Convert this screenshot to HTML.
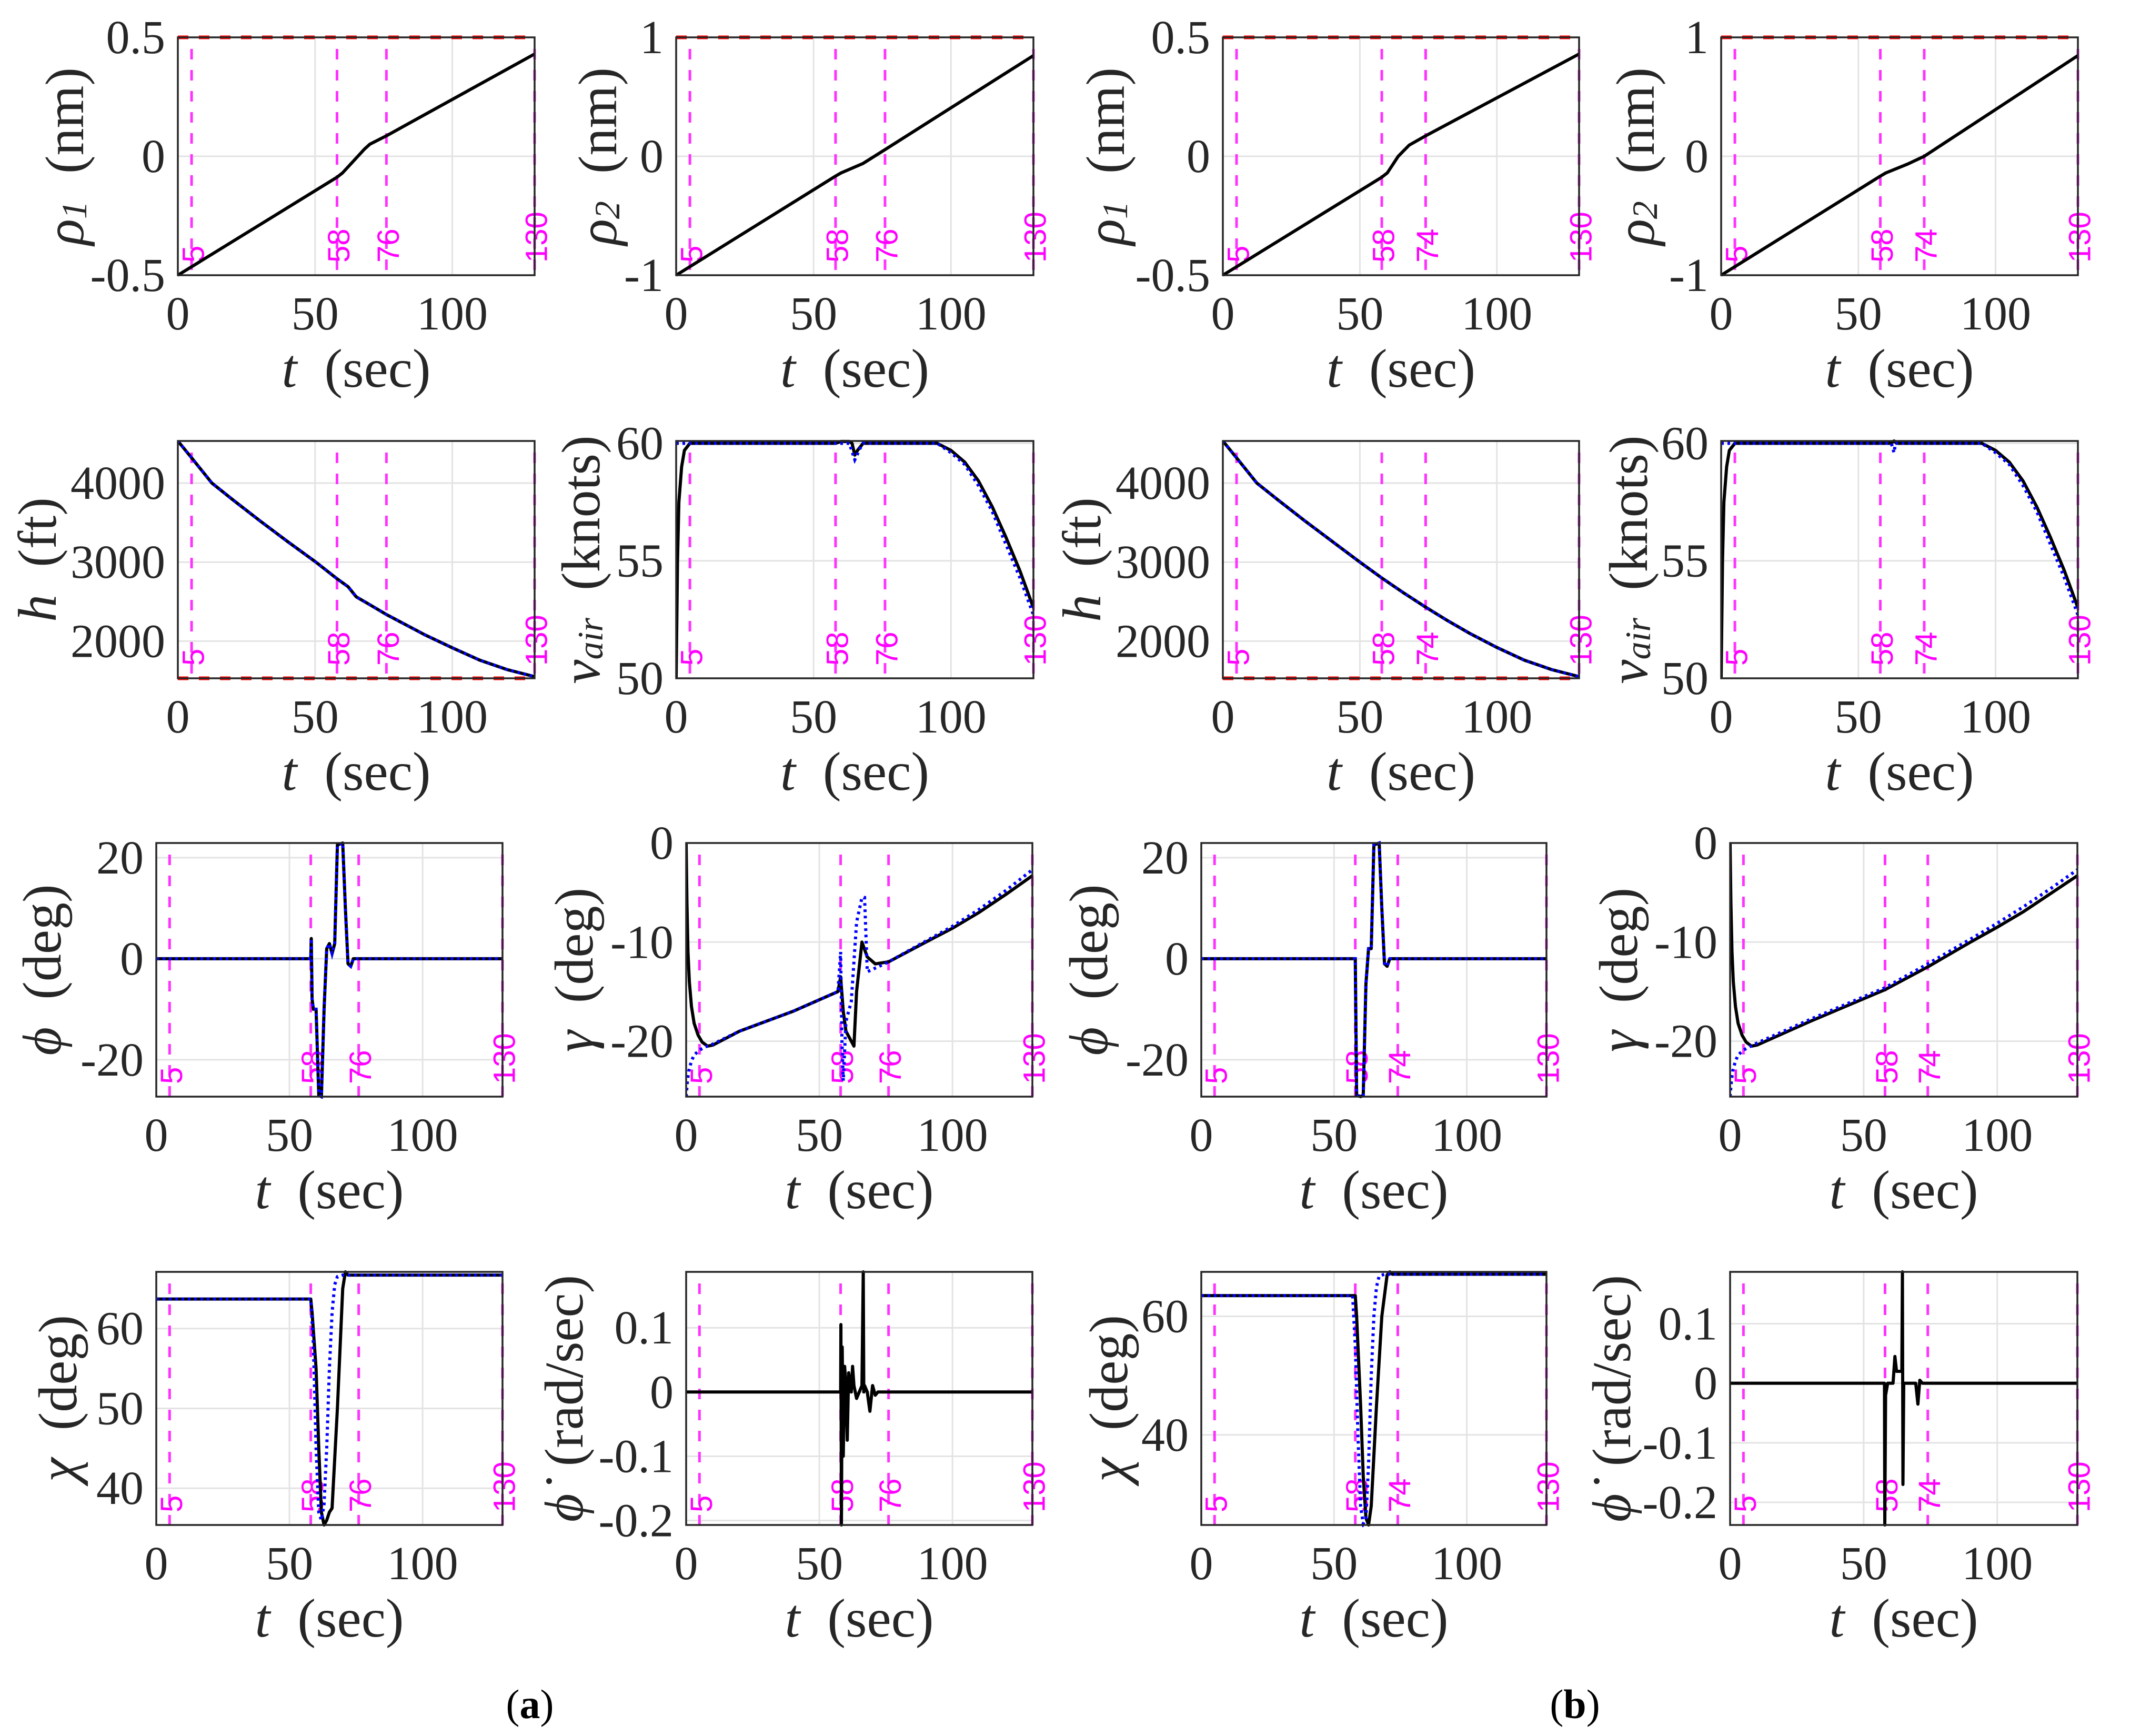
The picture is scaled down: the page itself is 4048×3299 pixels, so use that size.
<!DOCTYPE html>
<html><head><meta charset="utf-8"><style>
html,body{margin:0;padding:0;background:#fff;}
svg{display:block;}
text{font-family:"Liberation Serif",serif;}
</style></head><body>
<svg id="fig" width="4048" height="3299" viewBox="0 0 4048 3299" xmlns="http://www.w3.org/2000/svg">
<rect width="4048" height="3299" fill="#fff"/>
<text x="1007" y="3265" text-anchor="middle" style="font-family:'Liberation Serif',serif" font-size="78" fill="#000">(<tspan font-weight="bold">a</tspan>)</text>
<text x="2993" y="3265" text-anchor="middle" style="font-family:'Liberation Serif',serif" font-size="78" fill="#000">(<tspan font-weight="bold">b</tspan>)</text>
</svg>
<script>
// ---- data arrays (time, black actual, blue reference) ----
const xTicks = [0, 50, 100];
const rho1aT = [0,58,60,64,68,70,76,130];
const rho1aY = [-0.5,-0.088,-0.07,-0.02,0.03,0.051,0.086,0.43];
const rho2aT = [0,58,60,68,76,130];
const rho2aY = [-1,-0.167,-0.14,-0.06,0.056,0.847];
const rho1bT = [0,58,60,64,68,74,130];
const rho1bY = [-0.5,-0.088,-0.07,0.0,0.047,0.086,0.43];
const rho2bT = [0,58,60,68,74,130];
const rho2bY = [-1,-0.167,-0.14,-0.065,0,0.847];
const haT = [0,5,12.4,20,30,40,50.3,58,62,65,70,76,90,100,110,120,130];
const haY = [4533,4320,4000,3790,3520,3260,3000,2790,2690,2561,2460,2337,2080,1916,1760,1640,1551];
const hbT = [0,5,12.4,20,30,40,50,58,66,74,82,90,100,110,120,130];
const hbY = [4533,4320,4000,3790,3520,3260,3000,2800,2610,2430,2260,2100,1920,1760,1640,1551];
const vaT = [0,0.5,1,2,3,5,58,60,63,64,65,66,68,95,100,105,110,115,120,125,130];
const vaY = [50,55,57.5,59,59.7,60,60,60.08,60.08,60,59.5,59.7,60,60,59.7,59.2,58.4,57.3,56,54.6,53];
const vaRefT = [0,58,63,65,67,68,95,100,105,110,115,120,125,130];
const vaRefY = [60,60,60,59.3,59.8,60,60,59.6,59.1,58.2,57.1,55.7,54.3,52.7];
const vbT = [0,0.5,1,2,3,5,62,63,64,95,100,105,110,115,120,125,130];
const vbY = [50,55,57.5,59,59.7,60,60,60.1,60,60,59.7,59.2,58.4,57.3,56,54.6,53];
const vbRefT = [0,62,63,63.5,64,95,100,105,110,115,120,125,130];
const vbRefY = [60,60,59.6,60,60,60,59.6,59.1,58.2,57.1,55.7,54.3,52.7];
const phiaT = [0,58,58.2,58.5,59,60,61,62,63,64,65,66,67,68,70,71,72,73,74,130];
const phiaY = [0,0,4,-8,-10,-10,-27,-27.3,-10,2,3,1,3,22.5,22.9,10,-1,-1.5,0,0];
const phibT = [0,58,58.5,60,61,62,63,64,65,67,68,69,70,71,130];
const phibY = [0,0,-27,-27.3,-27,-5,2,2,22.5,22.9,10,-1,-1.5,0,0];
const gamaT = [0,0.3,0.7,1.2,2,3,4.5,6,8,10,20,40,57,58,59,60,63,64,66,68,71,76,90,100,110,120,130];
const gamaY = [0,-6,-11,-14,-16.5,-18.2,-19.4,-20.1,-20.5,-20.4,-19,-17,-15,-13.5,-17,-19,-20.5,-15,-10,-11.5,-12.2,-12,-10,-8.6,-7,-5.2,-3.3];
const gamaRefT = [0,0.5,1,2,3,5,7,10,20,40,57,58,58.5,59,60,62,64,66,67,68,76,90,100,110,120,130];
const gamaRefY = [-25.6,-24,-23,-22,-21.4,-20.9,-20.6,-20.3,-19,-17,-15,-11,-20,-24,-18,-16,-8,-5.5,-5.5,-13,-12,-9.9,-8.4,-6.7,-4.8,-2.7];
const gambT = [0,0.3,0.7,1.2,2,3,4.5,6,8,10,30,58,74,90,100,110,120,130];
const gambY = [0,-6,-11,-14,-16.5,-18.2,-19.4,-20.1,-20.5,-20.4,-18,-14.8,-12.5,-10,-8.5,-6.9,-5.1,-3.3];
const gambRefT = [0,0.5,1,2,3,5,7,10,30,58,74,90,100,110,120,130];
const gambRefY = [-25.6,-24,-23,-22,-21.4,-20.9,-20.6,-20.2,-17.8,-14.6,-12.2,-9.7,-8.1,-6.4,-4.6,-2.7];
const chiaT = [0,58,58.5,60,61,62,63,64,65,66,68,70,71,72,130];
const chiaY = [63.7,63.7,62,55,45,37,35.4,36,37,37.5,50,65,67.1,66.7,66.7];
const chiaRefT = [0,58,59,60,61,62,63,64,65,66,67,68,70,130];
const chiaRefY = [63.7,63.7,58,45,37,36,38,45,55,62,65.5,66.5,66.7,66.7];
const chibT = [0,58,58.5,60,61,62,63,64,66,68,70,71,72,130];
const chibY = [63.5,63.5,60,45,33,26,24.8,28,45,60,67,67.5,67.1,67.1];
const chibRefT = [0,57,58,59,60,61,62,63,64,65,66,67,69,130];
const chibRefY = [63.5,63.5,55,40,28,25,26,35,50,60,65,66.8,67.1,67.1];
const pdaT = [0,58,58.1,58.3,58.6,59,59.5,60,60.5,61,62,62.5,63,64,65,66,66.5,66.7,67,68,69,70,71,72,130];
const pdaY = [0,0,0.105,-0.207,0.07,-0.1,0.04,0.01,-0.075,0.03,0,0.04,0.01,-0.01,0,0.01,0.187,0,0.01,0,-0.03,0.01,-0.005,0,0];
const pdbT = [0,57.8,57.9,58.2,58.6,59,61,61.7,62.3,63,64.3,64.5,64.7,65,69.5,70.3,71,72,130];
const pdbY = [0,0,-0.238,-0.02,-0.01,0,0,0.045,0.02,0.02,0.02,0.187,-0.17,0,0,-0.035,0.005,0,0];

const NS = "http://www.w3.org/2000/svg";
const svg = document.getElementById('fig');
function mk(tag, attrs, parent) {
  const e = document.createElementNS(NS, tag);
  for (const k in attrs) e.setAttribute(k, attrs[k]);
  (parent || svg).appendChild(e);
  return e;
}
const SERIF = "font-family:'Liberation Serif',serif";
const SANS = "font-family:'Liberation Sans',sans-serif";

const panels = [
 {id:'a-rho1',L:338,R:1016,T:71,B:523,y0:-0.5,y1:0.5,yt:[-0.5,0,0.5],ytl:['-0.5','0','0.5'],mk:[5,58,76,130],lab:['ρ','1',' (nm)'],ld:215,redTop:true,s:[[rho1aT,rho1aY]]},
 {id:'a-rho2',L:1285,R:1964,T:71,B:523,y0:-1,y1:1,yt:[-1,0,1],ytl:['-1','0','1'],mk:[5,58,76,130],lab:['ρ','2',' (nm)'],ld:149,redTop:true,s:[[rho2aT,rho2aY]]},
 {id:'a-h',L:338,R:1016,T:838,B:1289,y0:1530,y1:4533,yt:[2000,3000,4000],ytl:['2000','3000','4000'],mk:[5,58,76,130],lab:['h','',' (ft)'],ld:267,redBot:true,s:[[haT,haY]],r:[[haT,haY]]},
 {id:'a-vair',L:1285,R:1964,T:838,B:1289,y0:50,y1:60.1,yt:[50,55,60],ytl:['50','55','60'],mk:[5,58,76,130],lab:['ν','air',' (knots)'],ld:181,s:[[vaT,vaY]],r:[[vaRefT,vaRefY]]},
 {id:'a-phi',L:297,R:955,T:1602,B:2084,y0:-27.3,y1:22.9,yt:[-20,0,20],ytl:['-20','0','20'],mk:[5,58,76,130],lab:['ϕ','',' (deg)'],ld:217,s:[[phiaT,phiaY]],r:[[phiaT,phiaY]]},
 {id:'a-gamma',L:1304,R:1962,T:1602,B:2084,y0:-25.6,y1:0,yt:[-20,-10,0],ytl:['-20','-10','0'],mk:[5,58,76,130],lab:['γ','',' (deg)'],ld:213,s:[[gamaT,gamaY]],r:[[gamaRefT,gamaRefY]]},
 {id:'a-chi',L:297,R:955,T:2417,B:2898,y0:35.4,y1:67.1,yt:[40,50,60],ytl:['40','50','60'],mk:[5,58,76,130],lab:['χ','',' (deg)'],ld:187,s:[[chiaT,chiaY]],r:[[chiaRefT,chiaRefY]]},
 {id:'a-phidot',L:1304,R:1962,T:2417,B:2898,y0:-0.207,y1:0.187,yt:[-0.2,-0.1,0,0.1],ytl:['-0.2','-0.1','0','0.1'],mk:[5,58,76,130],lab:['ϕ̇','',' (rad/sec)'],ld:232,s:[[pdaT,pdaY]]},
 {id:'b-rho1',L:2324,R:3001,T:71,B:523,y0:-0.5,y1:0.5,yt:[-0.5,0,0.5],ytl:['-0.5','0','0.5'],mk:[5,58,74,130],lab:['ρ','1',' (nm)'],ld:223,redTop:true,s:[[rho1bT,rho1bY]]},
 {id:'b-rho2',L:3271,R:3949,T:71,B:523,y0:-1,y1:1,yt:[-1,0,1],ytl:['-1','0','1'],mk:[5,58,74,130],lab:['ρ','2',' (nm)'],ld:163,redTop:true,s:[[rho2bT,rho2bY]]},
 {id:'b-h',L:2324,R:3001,T:838,B:1289,y0:1530,y1:4533,yt:[2000,3000,4000],ytl:['2000','3000','4000'],mk:[5,58,74,130],lab:['h','',' (ft)'],ld:268,redBot:true,s:[[hbT,hbY]],r:[[hbT,hbY]]},
 {id:'b-vair',L:3271,R:3949,T:838,B:1289,y0:50,y1:60.1,yt:[50,55,60],ytl:['50','55','60'],mk:[5,58,74,130],lab:['ν','air',' (knots)'],ld:176,s:[[vbT,vbY]],r:[[vbRefT,vbRefY]]},
 {id:'b-phi',L:2283,R:2939,T:1602,B:2084,y0:-27.3,y1:22.9,yt:[-20,0,20],ytl:['-20','0','20'],mk:[5,58,74,130],lab:['ϕ','',' (deg)'],ld:214,s:[[phibT,phibY]],r:[[phibT,phibY]]},
 {id:'b-gamma',L:3288,R:3948,T:1602,B:2084,y0:-25.6,y1:0,yt:[-20,-10,0],ytl:['-20','-10','0'],mk:[5,58,74,130],lab:['γ','',' (deg)'],ld:212,s:[[gambT,gambY]],r:[[gambRefT,gambRefY]]},
 {id:'b-chi',L:2283,R:2939,T:2417,B:2898,y0:24.8,y1:67.5,yt:[40,60],ytl:['40','60'],mk:[5,58,74,130],lab:['χ','',' (deg)'],ld:176,s:[[chibT,chibY]],r:[[chibRefT,chibRefY]]},
 {id:'b-phidot',L:3288,R:3948,T:2417,B:2898,y0:-0.238,y1:0.187,yt:[-0.2,-0.1,0,0.1],ytl:['-0.2','-0.1','0','0.1'],mk:[5,58,74,130],lab:['ϕ̇','',' (rad/sec)'],ld:225,s:[[pdbT,pdbY]]}
];

panels.forEach(p => {
  const g = mk('g', {});
  
  
  const xs = t => p.L + (t - 0) / 130 * (p.R - p.L);
  const ys = v => p.B - (v - p.y0) / (p.y1 - p.y0) * (p.B - p.T);
  const clipId = 'clip-' + p.id;
  const cp = mk('clipPath', {id: clipId}, g);
  mk('rect', {x:p.L, y:p.T-4, width:p.R-p.L, height:p.B-p.T+8}, cp);
  xTicks.forEach(t => {
    const l = mk('line', {x1:xs(t), x2:xs(t), y1:p.T, y2:p.B, stroke:'#e3e3e3', 'stroke-width':3}, g);
    
    
    const tx = mk('text', {x:xs(t), y:p.B+103, 'text-anchor':'middle', style:SERIF, 'font-size':90, fill:'#262626'}, g);
    tx.textContent = String(t);
    
    
  });
  p.yt.forEach((v, i) => {
    const l = mk('line', {x1:p.L, x2:p.R, y1:ys(v), y2:ys(v), stroke:'#e3e3e3', 'stroke-width':3}, g);
    
    
    const tx = mk('text', {x:p.L-24, y:ys(v)+30, 'text-anchor':'end', style:SERIF, 'font-size':90, fill:'#262626'}, g);
    tx.textContent = p.ytl[i];
    
    
  });
  if (p.redTop) {
    const l = mk('line', {x1:p.L, x2:p.R, y1:p.T, y2:p.T, stroke:'#ff0000', 'stroke-width':7, 'stroke-dasharray':'20 20'}, g);
    
    
  }
  if (p.redBot) {
    const l = mk('line', {x1:p.L, x2:p.R, y1:p.B, y2:p.B, stroke:'#ff0000', 'stroke-width':7, 'stroke-dasharray':'20 20'}, g);
    
    
  }
  p.mk.forEach(t => {
    const x = xs(t);
    const l = mk('line', {x1:x, x2:x, y1:p.T+22, y2:p.B, stroke:'#ff33ff', 'stroke-width':5, 'stroke-dasharray':'20 20'}, g);
    
    
    const tx = mk('text', {x:0, y:0, transform:`translate(${x+4},${p.B-24}) rotate(-90)`, 'dominant-baseline':'central', style:SANS, 'font-size':58, fill:'#ff00ff'}, g);
    tx.textContent = String(t);
    
    
  });
  const path = (T, Y) => T.map((t, i) => (i ? 'L' : 'M') + xs(t).toFixed(1) + ',' + ys(Y[i]).toFixed(1)).join(' ');
  p.s.forEach(([T, Y]) => {
    const pa = mk('path', {d:path(T, Y), fill:'none', stroke:'#000', 'stroke-width':6, 'stroke-linejoin':'round', 'clip-path':`url(#${clipId})`}, g);
    
    
  });
  (p.r || []).forEach(([T, Y]) => {
    const pa = mk('path', {d:path(T, Y), fill:'none', stroke:'#0000ff', 'stroke-width':6, 'stroke-dasharray':'5 7', 'clip-path':`url(#${clipId})`}, g);
    
    
  });
  const box = mk('rect', {x:p.L, y:p.T, width:p.R-p.L, height:p.B-p.T, fill:'none', stroke:'#262626', 'stroke-width':3.5}, g);
  
  
  const xl = mk('text', {x:(p.L+p.R)/2, y:p.B+212, 'text-anchor':'middle', style:SERIF, 'font-size':104, fill:'#262626'}, g);
  xl.innerHTML = '<tspan font-style="italic">t</tspan>\u2002(sec)';
  
  
  const yl = mk('text', {x:0, y:0, transform:`translate(${p.L-p.ld},${(p.T+p.B)/2}) rotate(-90)`, 'text-anchor':'middle', 'dominant-baseline':'central', style:SERIF, 'font-size':104, fill:'#262626'}, g);
  let h = `<tspan font-style="italic">${p.lab[0]}</tspan>`;
  if (p.lab[1]) h += `<tspan font-style="italic" font-size="68" dy="18">${p.lab[1]}</tspan><tspan dy="-18">\u2002${p.lab[2].trim()}</tspan>`;
  else h += `<tspan>\u2002${p.lab[2].trim()}</tspan>`;
  yl.innerHTML = h;
  
  
});
</script>
</body></html>
